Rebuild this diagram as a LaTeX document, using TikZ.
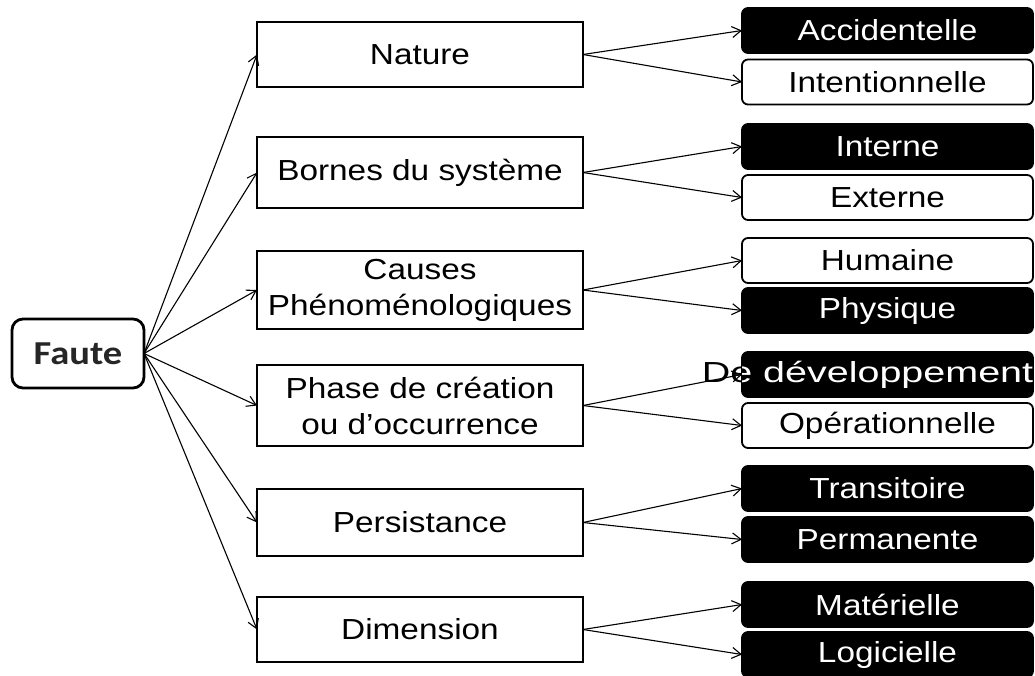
\documentclass[tikz,border=0pt]{standalone}
\usepackage{fontspec}
\usepackage{graphicx}
\setmainfont{Liberation Sans}[FakeStretch=1.15]
\newfontfamily\headfont{Carlito}[FakeStretch=1.15]
\usetikzlibrary{arrows.meta}
\newcommand{\devtext}{\makebox[0pt]{\hspace*{-40pt}\scalebox{1.184}[1]{De développement}}}
\begin{document}
\begin{tikzpicture}[x=1pt,y=-1pt,
  every node/.style={inner sep=0pt, outer sep=0pt, align=center},
  root/.style={draw, line width=2.8pt, rounded corners=11pt, minimum width=132pt,
    minimum height=69pt, font=\headfont\bfseries\fontsize{33.5}{40}\selectfont, text=black!85},
  cat/.style={draw, line width=2.2pt, minimum width=326pt, font=\fontsize{29}{36}\selectfont},
  leafw/.style={draw, line width=1.8pt, rounded corners=6pt, minimum width=291pt,
    minimum height=45pt, fill=white, font=\fontsize{29}{36}\selectfont},
  leafb/.style={leafw, fill=black, text=white},
  link/.style={-{Straight Barb[length=9pt,width=11pt]}, line width=1.1pt}
]
\useasboundingbox (0,0) rectangle (1035,675);

% root
\node[root] (faute) at (78,353.5) {Faute};

% categories
\node[cat, minimum height=65pt] (nature)  at (420,54.5)  {Nature};
\node[cat, minimum height=71pt] (bornes)  at (420,172.5) {Bornes du système};
\node[cat, minimum height=78pt] (causes)  at (420,290)   {Causes\\Phénoménologiques};
\node[cat, minimum height=81pt] (phase)   at (420,405.5) {Phase de création\\ou d’occurrence};
\node[cat, minimum height=67pt] (persist) at (420,522.5) {Persistance};
\node[cat, minimum height=65pt] (dimen)   at (420,629.5) {Dimension};

% leaves
\node[leafb] (acc)   at (887.5,30.5)  {Accidentelle};
\node[leafw] (inten) at (887.5,82)    {Intentionnelle};
\node[leafb] (inter) at (887.5,146.5) {Interne};
\node[leafw] (exter) at (887.5,197.5) {Externe};
\node[leafw] (hum)   at (887.5,260.5) {Humaine};
\node[leafb] (phys)  at (887.5,310.5) {Physique};
% the long label runs past the left edge of its box: black outside, white inside
\node[leafb, text=black] (dev) at (887.5,374.5) {\devtext};
\begin{scope}
  \clip (dev.north west) rectangle (dev.south east);
  \node[font=\fontsize{29}{36}\selectfont, text=white] (devin) at (dev.center) {\devtext};
\end{scope}
\node[leafw] (oper)  at (887.5,425.5) {Opérationnelle};
\node[leafb] (trans) at (887.5,488.5) {Transitoire};
\node[leafb] (perm)  at (887.5,539.5) {Permanente};
\node[leafb] (mat)   at (887.5,604.5) {Matérielle};
\node[leafb] (logi)  at (887.5,654.5) {Logicielle};

% root to categories
\foreach \c in {nature,bornes,causes,phase,persist,dimen}
  \draw[link] (faute.east) -- (\c.west);

% categories to leaves
\foreach \c/\a/\b in {nature/acc/inten, bornes/inter/exter, causes/hum/phys,
                      phase/dev/oper, persist/trans/perm, dimen/mat/logi} {
  \draw[link] (\c.east) -- (\a.west);
  \draw[link] (\c.east) -- (\b.west);
}
\end{tikzpicture}
\end{document}
